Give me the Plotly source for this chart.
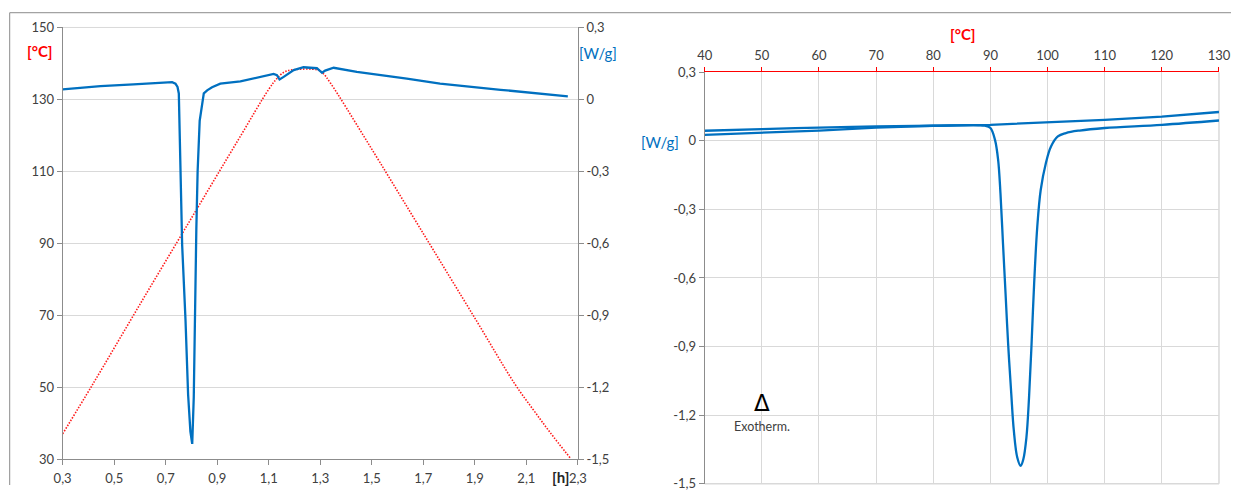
import plotly.graph_objects as go

# ---------------- Left chart: DSC run vs. time ----------------
time_h = [0.300, 0.447, 0.575, 0.650, 0.707, 0.725, 0.738, 0.746, 0.751, 0.754,
          0.757, 0.764, 0.777, 0.787, 0.796, 0.803, 0.809, 0.813, 0.819, 0.824,
          0.832, 0.848, 0.861, 0.880, 0.912, 0.990, 1.050, 1.119, 1.132, 1.142,
          1.158, 1.197, 1.235, 1.287, 1.307, 1.319, 1.352, 1.442, 1.636, 1.765,
          2.000, 2.261]
heat_flow_t = [0.042, 0.055, 0.063, 0.068, 0.072, 0.072, 0.066, 0.052, 0.025, -0.100,
               -0.300, -0.608, -0.921, -1.230, -1.386, -1.437, -1.242, -0.921, -0.541, -0.300,
               -0.089, 0.025, 0.038, 0.051, 0.066, 0.075, 0.088, 0.106, 0.101, 0.083,
               0.094, 0.122, 0.134, 0.130, 0.111, 0.120, 0.132, 0.115, 0.087, 0.066,
               0.040, 0.013]

temp_time_h = [0.300, 0.417, 0.600, 0.800, 0.982, 1.100, 1.133, 1.160, 1.190, 1.290,
               1.310, 1.340, 1.480, 1.700, 1.900, 2.056, 2.126, 2.190, 2.270]
temp_c = [37.0, 50.8, 73.0, 97.0, 118.8, 132.8, 135.9, 137.6, 138.2, 138.2,
          137.3, 134.5, 118.5, 92.7, 69.2, 50.8, 43.8, 37.6, 30.3]

left_x_ticks = [0.3, 0.5, 0.7, 0.9, 1.1, 1.3, 1.5, 1.7, 1.9, 2.1, 2.3]
left_x_text = ["0,3", "0,5", "0,7", "0,9", "1,1", "1,3", "1,5", "1,7", "1,9", "2,1", "2,3"]
left_t_ticks = [30, 50, 70, 90, 110, 130, 150]
wg_ticks = [-1.5, -1.2, -0.9, -0.6, -0.3, 0, 0.3]
wg_text = ["-1,5", "-1,2", "-0,9", "-0,6", "-0,3", "0", "0,3"]

# ---------------- Right chart: DSC vs. temperature ----------------
temp_heat = [40, 50, 60, 70, 80, 87.9, 89.0, 90.0, 90.8, 91.35, 91.76, 92.2, 92.65,
             93.1, 93.65, 94.1, 94.7, 95.3, 95.76, 96.3, 96.76, 97.2, 97.65, 98.2,
             98.8, 99.7, 100.6, 101.8, 103.2, 105.6, 110, 120, 130]
heat_flow_heat = [0.044, 0.051, 0.058, 0.063, 0.066, 0.068, 0.066, 0.056, 0.004, -0.083,
                  -0.230, -0.449, -0.669, -0.888, -1.107, -1.268, -1.385, -1.422, -1.393,
                  -1.298, -1.122, -0.888, -0.625, -0.376, -0.215, -0.098, -0.025, 0.019,
                  0.034, 0.045, 0.056, 0.070, 0.089]

temp_cool = [130, 120, 110, 100, 90, 80, 70, 60, 50, 40]
heat_flow_cool = [0.126, 0.106, 0.092, 0.080, 0.070, 0.066, 0.058, 0.045, 0.034, 0.026]

BLUE = "#0070C0"
RED = "#FF1A1A"
AXIS = "#8C8C8C"
GRID = "#D9D9D9"
TXT = "#404040"
FONT = "Lato"

fig = go.Figure()

fig.add_trace(go.Scatter(x=temp_time_h, y=temp_c, mode="lines", xaxis="x", yaxis="y",
                         line=dict(color=RED, width=1.6, dash="1.5px,1.5px"),
                         line_shape="spline", showlegend=False))
fig.add_trace(go.Scatter(x=time_h, y=heat_flow_t, mode="lines", xaxis="x", yaxis="y2",
                         line=dict(color=BLUE, width=2.3), showlegend=False))

fig.add_trace(go.Scatter(x=temp_cool, y=heat_flow_cool, mode="lines", xaxis="x2", yaxis="y3",
                         line=dict(color=BLUE, width=2.3), showlegend=False))
fig.add_trace(go.Scatter(x=temp_heat, y=heat_flow_heat, mode="lines", xaxis="x2", yaxis="y3",
                         line=dict(color=BLUE, width=2.3), line_shape="spline",
                         showlegend=False))

W, H = 1243, 493
# compensation for how the page is captured (measured offset/scale)
OX, OY, SX, SY = 8.3, 8.3, 0.9845, 0.964

def px(x):
    return ((x - OX) / SX) / W

def py(y):
    return 1 - ((y - OY) / SY) / H

tickfont = dict(family=FONT, size=13, color=TXT)

fig.update_layout(
    width=W, height=H,
    margin=dict(l=0, r=0, t=0, b=0),
    paper_bgcolor="white", plot_bgcolor="white",
    font=dict(family=FONT, color=TXT),
    xaxis=dict(domain=[px(62), px(578)], anchor="y", range=[0.3, 2.3],
               tickmode="array", tickvals=left_x_ticks, ticktext=left_x_text,
               ticks="outside", ticklen=5, tickcolor=AXIS, showline=True,
               linecolor=AXIS, showgrid=False, zeroline=False, tickfont=tickfont,
               ticklabelstandoff=2),
    yaxis=dict(domain=[py(457.7), py(27.7)], anchor="x", range=[30, 150],
               tickmode="array", tickvals=left_t_ticks, ticks="outside", ticklen=5,
               tickcolor=AXIS, showline=True, linecolor=AXIS, showgrid=True,
               gridcolor=GRID, zeroline=False, tickfont=tickfont),
    yaxis2=dict(overlaying="y", side="right", anchor="x", range=[-1.5, 0.3],
                tickmode="array", tickvals=wg_ticks, ticktext=wg_text,
                ticks="outside", ticklen=5, tickcolor=AXIS, showline=True,
                linecolor=AXIS, showgrid=False, zeroline=False, tickfont=tickfont),
    xaxis2=dict(domain=[px(705), px(1220)], anchor="y3", side="top", range=[40, 130],
                dtick=10, tick0=40, ticks="outside", ticklen=4, tickcolor="#FF0000",
                showline=True, linecolor="#FF0000", linewidth=1.3, showgrid=True,
                gridcolor=GRID, zeroline=False, tickfont=tickfont, ticklabelstandoff=2),
    yaxis3=dict(domain=[py(482.3), py(72.3)], anchor="x2", range=[-1.5, 0.3],
                tickmode="array", tickvals=wg_ticks, ticktext=wg_text,
                ticks="outside", ticklen=5, tickcolor=AXIS, showline=True,
                linecolor=AXIS, showgrid=True, gridcolor=GRID, zeroline=False,
                tickfont=tickfont),
)

shapes = [
    dict(type="line", xref="paper", yref="paper", x0=px(9), x1=1, y0=py(13), y1=py(13),
         line=dict(color=AXIS, width=1)),
    dict(type="line", xref="paper", yref="paper", x0=px(9), x1=px(9), y0=0, y1=py(13),
         line=dict(color=AXIS, width=1)),
    dict(type="line", xref="x domain", yref="y domain", x0=0, x1=1, y0=1, y1=1,
         line=dict(color=GRID, width=1), layer="below"),
    dict(type="line", xref="x2 domain", yref="y3 domain", x0=1, x1=1, y0=0, y1=1,
         line=dict(color=GRID, width=1.5), layer="below"),
    dict(type="line", xref="x2 domain", yref="y3 domain", x0=0, x1=1, y0=0, y1=0,
         line=dict(color=GRID, width=1.5), layer="below"),
]
fig.update_layout(shapes=shapes)

annotations = [
    dict(text="<b>[°C]</b>", x=px(39), y=py(51), yanchor="middle",
         font=dict(size=15, color="#FF0000", family=FONT)),
    dict(text="[W/g]", x=px(598), y=py(53), yanchor="middle",
         font=dict(size=15, color=BLUE, family=FONT)),
    dict(text="<b>[h]</b>", x=px(561), y=py(476), yanchor="middle",
         font=dict(size=15, color="#262626", family=FONT)),
    dict(text="<b>[°C]</b>", x=px(964), y=py(34), yanchor="middle",
         font=dict(size=15, color="#FF0000", family=FONT)),
    dict(text="[W/g]", x=px(660), y=py(142), yanchor="middle",
         font=dict(size=15, color=BLUE, family=FONT)),
    dict(text="Δ", x=px(762), y=py(416), yanchor="bottom",
         font=dict(size=23, color="#000000", family="DejaVu Sans")),
    dict(text="Exotherm.", x=px(762), y=py(417), yanchor="top",
         font=dict(size=12.5, color=TXT, family=FONT)),
]
for a in annotations:
    a.update(xref="paper", yref="paper", xanchor="center", showarrow=False, borderpad=0)
fig.update_layout(annotations=annotations)

fig.write_html(
    "out.html",
    config={"displayModeBar": False},
    post_script="document.body.style.margin='0';document.body.style.padding='0';"
                "document.documentElement.style.overflow='hidden';",
)
